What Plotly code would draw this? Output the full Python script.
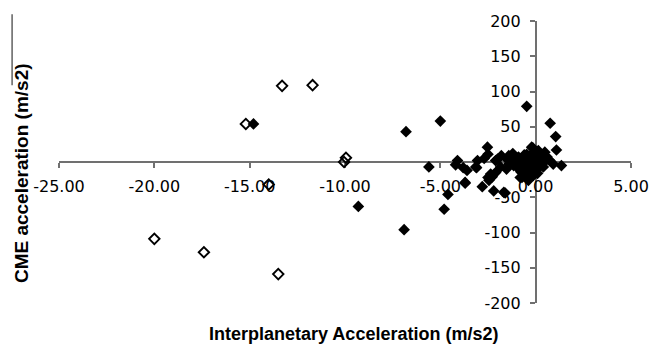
import plotly.graph_objects as go

# Events whose interplanetary acceleration is taken from the in-situ arrival (filled markers)
ip_acc_filled = [-14.8, -9.3, -6.8, -6.9, -5.0, -5.6, -4.8, -4.6, -4.1, -4.2, -3.7, -3.8,
                 -3.6, -3.05, -3.1, -2.53, -2.5, -2.8, -2.2, -1.6, -2.5, -2.36, -2.1, -2.0,
                 -1.84, -1.5, -1.4, -0.47, 0.76, 1.05, 1.09, 1.35, -0.15, -0.07, -0.81,
                 -0.55, -0.29, -3.7, -2.45, -2.28, -2.1, -1.67, -1.32, -1.53, -1.15, -0.9,
                 -0.81, -0.78, -0.64, -0.5, -0.38, -0.29, -0.21, -0.12, -0.03, 0.05, -0.12,
                 -0.38, -0.72, 0.22, 0.31, 0.40, 0.57, 0.74, 0.14, 0.09, -0.47, -1.07,
                 -0.98, 0.92, 0.48, -1.41, -3.14, -0.25, 0.0, 0.2, -0.6, -0.35, 0.35,
                 -0.1, 0.6, -0.7, -0.2, 0.1, -1.2, -1.8, -2.7]
cme_acc_filled = [54, -63, 43, -96, 58, -7, -67, -46, 2, -4, -30, -8,
                  -12, 2, -8, 21, 11, -35, -41, -44, -22, -17, 2, 4,
                  -7, 4, -3, 79, 55, 36, 17, -5, 20, 11, -22,
                  -17, -19, -29, -26, -21, -15, -43, 2, -10, -5, 7,
                  0, -14, -7, 2, -3, -12, 21, 11, 4, -5, -19,
                  -26, -22, 9, 0, -7, 4, 2, 16, -10, 11, 3,
                  -7, -3, 14, 9, -7, 6, -2, 5, 10, -9, -3,
                  14, 7, -4, -14, -16, 12, 9, 5]

# Events with the large-deceleration estimate (open markers)
ip_acc_open = [-13.3, -11.7, -15.2, -14.0, -20.0, -17.4, -13.5, -9.95, -10.05]
cme_acc_open = [108, 109, 54, -32, -109, -128, -159, 6, 0]

x_ticks = [-25, -20, -15, -10, -5, 0, 5]
x_tick_text = ["-25.00", "-20.00", "-15.00", "-10.00", "-5.00", "0.00", "5.00"]
y_ticks = [-200, -150, -100, -50, 0, 50, 100, 150, 200]
y_tick_text = ["-200", "-150", "-100", "-50", "0", "50", "100", "150", "200"]

x_range = [-25, 5]
y_range = [-200, 200]

fig = go.Figure()
fig.add_trace(go.Scatter(
    x=ip_acc_open, y=cme_acc_open, mode="markers",
    marker=dict(symbol="diamond-open", size=8, color="black", line=dict(width=1.9, color="black")),
    showlegend=False,
))
fig.add_trace(go.Scatter(
    x=ip_acc_filled, y=cme_acc_filled, mode="markers",
    marker=dict(symbol="diamond", size=9, color="black", line=dict(width=0)),
    showlegend=False,
))

tick_font = dict(family="DejaVu Sans", size=16, color="black")
axis_color = "#707070"

# axes cross at the origin, Excel-style
x_origin_frac = (0 - y_range[0]) / (y_range[1] - y_range[0])
y_origin_frac = (0 - x_range[0]) / (x_range[1] - x_range[0])

fig.update_layout(
    width=661, height=345,
    margin=dict(l=59, r=22, t=21, b=42),
    paper_bgcolor="white", plot_bgcolor="white",
    xaxis=dict(
        range=x_range, tickvals=x_ticks, ticktext=x_tick_text,
        showgrid=False, zeroline=False, showline=True, linecolor=axis_color, linewidth=1.5,
        ticks="outside", ticklen=5, tickcolor=axis_color, tickwidth=1.5,
        tickfont=tick_font, anchor="free", position=x_origin_frac, side="bottom",
        layer="below traces", ticklabelstandoff=5,
    ),
    yaxis=dict(
        range=y_range, tickvals=y_ticks, ticktext=y_tick_text,
        showgrid=False, zeroline=False, showline=True, linecolor=axis_color, linewidth=1.5,
        ticks="outside", ticklen=5, tickcolor=axis_color, tickwidth=1.5,
        tickfont=tick_font, anchor="free", position=y_origin_frac, side="left",
        layer="below traces", ticklabelstandoff=6,
    ),
    annotations=[
        dict(text="Interplanetary Acceleration (m/s2)", xref="paper", yref="paper",
             x=0.5155, y=-0.1086, xanchor="center", yanchor="middle", showarrow=False,
             font=dict(family="Liberation Sans", size=18, color="black", weight="bold")),
        dict(text="CME acceleration (m/s2)", xref="paper", yref="paper",
             x=-0.0655, y=0.459, xanchor="center", yanchor="middle", showarrow=False,
             textangle=-90,
             font=dict(family="Liberation Sans", size=19, color="black", weight="bold")),
    ],
    shapes=[
        dict(type="line", xref="paper", yref="paper", x0=-0.082, x1=-0.082,
             y0=1.0237, y1=0.7725, line=dict(color="#606060", width=1.5)),
    ],
)

fig.write_html("out.html")
